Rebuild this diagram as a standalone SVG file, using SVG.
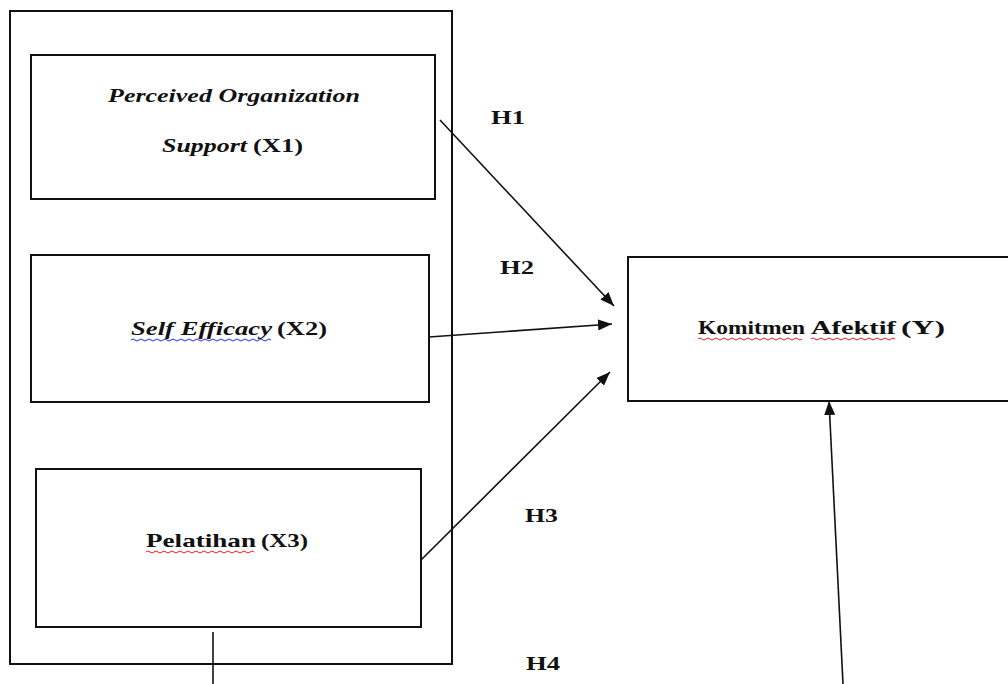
<svg xmlns="http://www.w3.org/2000/svg" width="1008" height="684" viewBox="0 0 1008 684">
<style>
.box{fill:#fff;stroke:#111;stroke-width:2}
.conn{stroke:#111;stroke-width:1.6;fill:none}
.t{font-family:"Liberation Serif","Times New Roman",serif;font-size:19px;font-weight:bold;fill:#111}
.i{font-style:italic}
.wr{fill:none;stroke:#e02020;stroke-width:1}
.wb{fill:none;stroke:#2030e0;stroke-width:1}
</style>
<defs>
<marker id="ah" viewBox="0 0 14 11" refX="14" refY="5.5" markerWidth="14" markerHeight="11" markerUnits="userSpaceOnUse" orient="auto">
<path d="M0,0 L14,5.5 L0,11 z" fill="#111"/>
</marker>
</defs>
<rect width="1008" height="684" fill="#fff"/>
<g id="outer"><rect class="box" x="10" y="11" width="442" height="653"/></g>
<g id="x1">
<rect class="box" x="31" y="55" width="404" height="144"/>
<text class="t i" x="108" y="102" textLength="252" lengthAdjust="spacingAndGlyphs">Perceived Organization</text>
<text class="t i" x="162" y="152" textLength="85" lengthAdjust="spacingAndGlyphs">Support</text>
<text class="t" x="253" y="152" textLength="50" lengthAdjust="spacingAndGlyphs">(X1)</text>
</g>
<g id="x2">
<rect class="box" x="31" y="255" width="398" height="147"/>
<text class="t i" x="131" y="335" textLength="141" lengthAdjust="spacingAndGlyphs">Self Efficacy</text>
<text class="t" x="277" y="335" textLength="50" lengthAdjust="spacingAndGlyphs">(X2)</text>
<path class="wb" d="M131,340 q2,-2 4,0 t4,0 t4,0 t4,0 t4,0 t4,0 t4,0 t4,0 t4,0 t4,0 t4,0 t4,0 t4,0 t4,0 t4,0 t4,0 t4,0 t4,0 t4,0 t4,0 t4,0 t4,0 t4,0 t4,0 t4,0 t4,0 t4,0 t4,0 t4,0 t4,0 t4,0 t4,0 t4,0 t4,0 t4,0"/>
</g>
<g id="x3">
<rect class="box" x="36" y="469" width="385" height="158"/>
<text class="t" x="146" y="547" textLength="110" lengthAdjust="spacingAndGlyphs">Pelatihan</text>
<text class="t" x="261" y="547" textLength="47" lengthAdjust="spacingAndGlyphs">(X3)</text>
<path class="wr" d="M146,552 q2,-2 4,0 t4,0 t4,0 t4,0 t4,0 t4,0 t4,0 t4,0 t4,0 t4,0 t4,0 t4,0 t4,0 t4,0 t4,0 t4,0 t4,0 t4,0 t4,0 t4,0 t4,0 t4,0 t4,0 t4,0 t4,0 t4,0 t4,0"/>
</g>
<g id="y">
<rect class="box" x="628" y="257" width="390" height="144"/>
<text class="t" x="698" y="334" textLength="107" lengthAdjust="spacingAndGlyphs">Komitmen</text>
<text class="t" x="811" y="334" textLength="85" lengthAdjust="spacingAndGlyphs">Afektif</text>
<text class="t" x="901" y="334" textLength="44" lengthAdjust="spacingAndGlyphs">(Y)</text>
<path class="wr" d="M698,339 q2,-2 4,0 t4,0 t4,0 t4,0 t4,0 t4,0 t4,0 t4,0 t4,0 t4,0 t4,0 t4,0 t4,0 t4,0 t4,0 t4,0 t4,0 t4,0 t4,0 t4,0 t4,0 t4,0 t4,0 t4,0 t4,0 t4,0"/>
<path class="wr" d="M811,339 q2,-2 4,0 t4,0 t4,0 t4,0 t4,0 t4,0 t4,0 t4,0 t4,0 t4,0 t4,0 t4,0 t4,0 t4,0 t4,0 t4,0 t4,0 t4,0 t4,0 t4,0 t4,0"/>
</g>
<g id="connectors">
<line class="conn" x1="440" y1="120" x2="614" y2="306" marker-end="url(#ah)"/>
<line class="conn" x1="429" y1="337" x2="612" y2="324" marker-end="url(#ah)"/>
<line class="conn" x1="421" y1="560" x2="610" y2="372" marker-end="url(#ah)"/>
<line class="conn" x1="843" y1="684" x2="829" y2="401" marker-end="url(#ah)"/>
<line class="conn" x1="213" y1="632" x2="213" y2="684"/>
</g>
<g id="labels">
<text class="t" x="491" y="124" textLength="34" lengthAdjust="spacingAndGlyphs">H1</text>
<text class="t" x="500" y="274" textLength="34" lengthAdjust="spacingAndGlyphs">H2</text>
<text class="t" x="525" y="522" textLength="33" lengthAdjust="spacingAndGlyphs">H3</text>
<text class="t" x="526" y="670" textLength="34" lengthAdjust="spacingAndGlyphs">H4</text>
</g>
</svg>
